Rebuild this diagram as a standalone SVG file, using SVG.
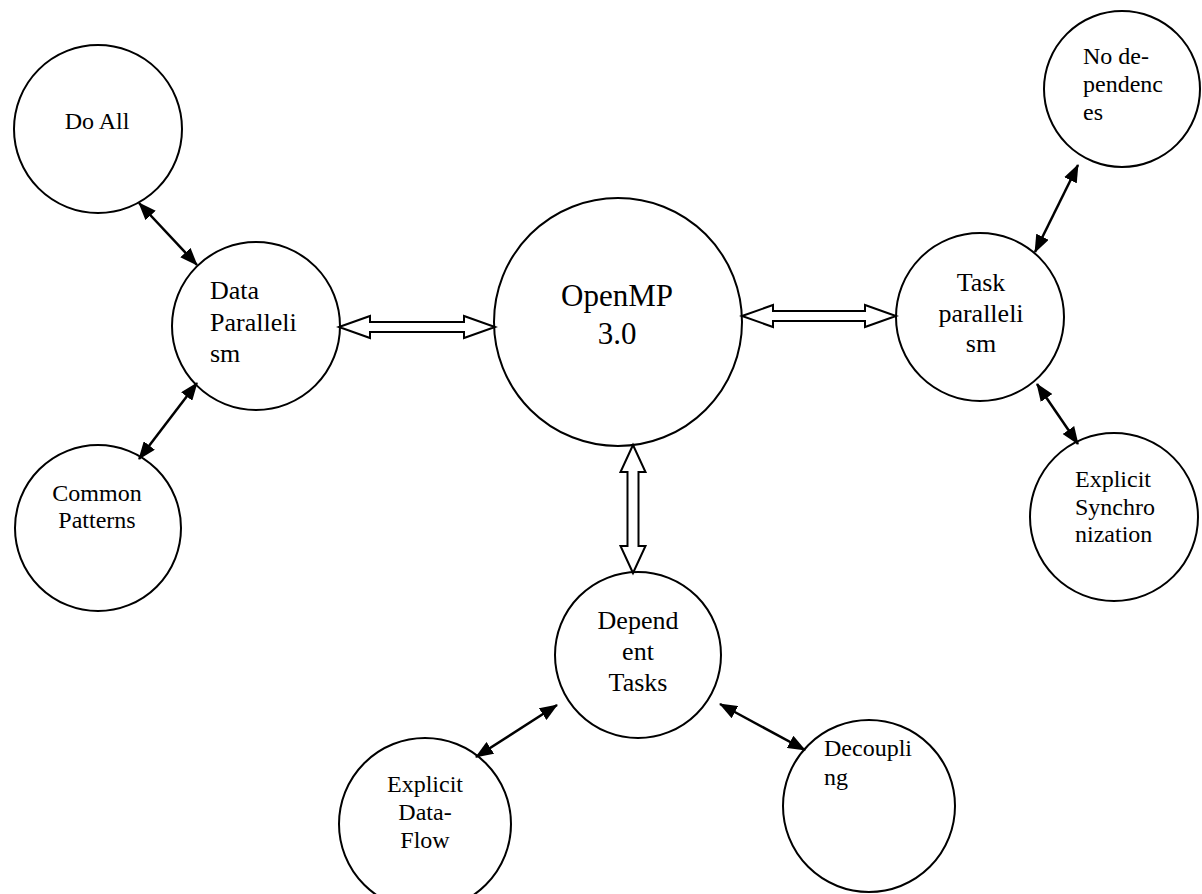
<svg xmlns="http://www.w3.org/2000/svg" width="1202" height="894" viewBox="0 0 1202 894">
  <defs>
    <style>
      .node { fill: #ffffff; stroke: #000000; stroke-width: 2; }
      .label { font-family: "Liberation Serif", "Times New Roman", serif; font-size: 24px; fill: #000000; }
      .lg { font-size: 26px; }
      .big { font-size: 31px; }
      .mid { text-anchor: middle; }
      .link { stroke: #000000; stroke-width: 2.5; fill: none; marker-start: url(#head); marker-end: url(#head); }
      .block { fill: #ffffff; stroke: #000000; stroke-width: 2; stroke-linejoin: miter; }
    </style>
    <marker id="head" viewBox="0 0 18 14" refX="17" refY="7" markerWidth="18" markerHeight="14" markerUnits="userSpaceOnUse" orient="auto-start-reverse">
      <path d="M0,0 L18,7 L0,14 z" fill="#000000"/>
    </marker>
  </defs>

  <rect width="1202" height="894" fill="#ffffff"/>

  <g id="openmp">
    <circle class="node" cx="618" cy="322" r="124"/>
    <text class="label big mid" x="617" y="306">OpenMP</text>
    <text class="label big mid" x="617" y="344">3.0</text>
  </g>

  <g id="data-parallelism">
    <circle class="node" cx="256" cy="326" r="84"/>
    <text class="label lg" x="210" y="299">Data</text>
    <text class="label lg" x="210" y="331">Paralleli</text>
    <text class="label lg" x="210" y="362">sm</text>
  </g>

  <g id="do-all">
    <circle class="node" cx="98" cy="129" r="84"/>
    <text class="label mid" x="97" y="129">Do All</text>
  </g>

  <g id="common-patterns">
    <circle class="node" cx="98" cy="528" r="83"/>
    <text class="label mid" x="97" y="501">Common</text>
    <text class="label mid" x="97" y="528">Patterns</text>
  </g>

  <g id="task-parallelism">
    <circle class="node" cx="980" cy="317" r="84"/>
    <text class="label lg mid" x="981" y="291">Task</text>
    <text class="label lg mid" x="981" y="322">paralleli</text>
    <text class="label lg mid" x="981" y="352">sm</text>
  </g>

  <g id="no-dependences">
    <circle class="node" cx="1122" cy="89" r="78"/>
    <text class="label" x="1083" y="64">No de-</text>
    <text class="label" x="1083" y="92">pendenc</text>
    <text class="label" x="1083" y="120">es</text>
  </g>

  <g id="explicit-synchronization">
    <circle class="node" cx="1114" cy="517" r="84"/>
    <text class="label" x="1075" y="487">Explicit</text>
    <text class="label" x="1075" y="515">Synchro</text>
    <text class="label" x="1075" y="542">nization</text>
  </g>

  <g id="dependent-tasks">
    <circle class="node" cx="638" cy="655" r="83"/>
    <text class="label lg mid" x="638" y="629">Depend</text>
    <text class="label lg mid" x="638" y="660">ent</text>
    <text class="label lg mid" x="638" y="691">Tasks</text>
  </g>

  <g id="explicit-data-flow">
    <circle class="node" cx="425" cy="824" r="86"/>
    <text class="label mid" x="425" y="792">Explicit</text>
    <text class="label mid" x="425" y="820">Data-</text>
    <text class="label mid" x="425" y="848">Flow</text>
  </g>

  <g id="decoupling">
    <circle class="node" cx="869" cy="806" r="86"/>
    <text class="label" x="824" y="756">Decoupli</text>
    <text class="label" x="824" y="785">ng</text>
  </g>

  <!-- connectors, drawn over the node outlines so both heads stay visible -->
  <g id="connectors">
    <polygon class="block" points="339,327 370,316 370,322 464,322 464,316 495,327 464,338 464,332 370,332 370,338"/>
    <polygon class="block" points="742,316 773,305 773,311 865,311 865,305 896,316 865,327 865,321 773,321 773,327"/>
    <polygon class="block" points="633,445 645.5,472 638.5,472 638.5,546 645.5,546 633,573 620.5,546 627.5,546 627.5,472 620.5,472"/>
    <line class="link" x1="139" y1="203" x2="197" y2="265"/>
    <line class="link" x1="197" y1="383" x2="139" y2="459"/>
    <line class="link" x1="1035" y1="252" x2="1078" y2="165"/>
    <line class="link" x1="1037" y1="384" x2="1078" y2="444"/>
    <line class="link" x1="557" y1="705" x2="476" y2="757"/>
    <line class="link" x1="720" y1="704" x2="805" y2="750"/>
  </g>
</svg>
